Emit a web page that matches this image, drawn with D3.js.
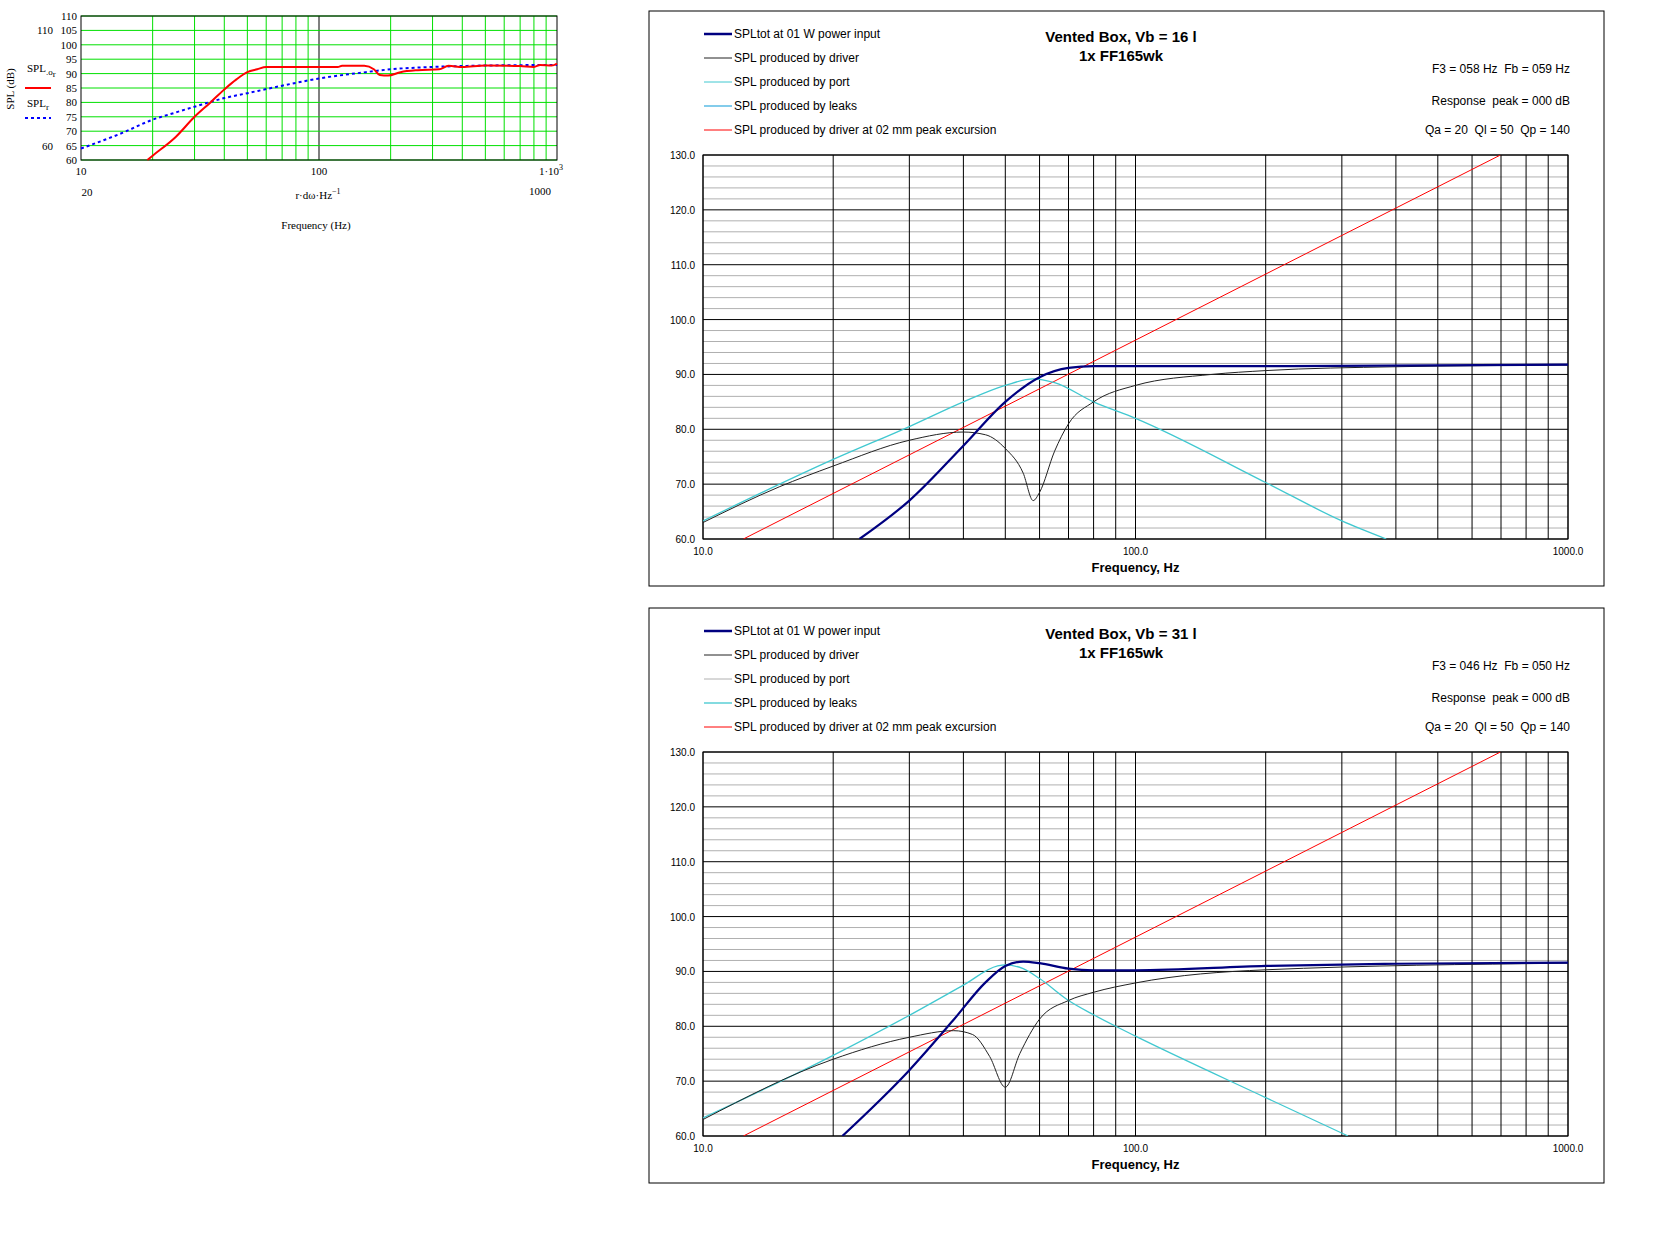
<!DOCTYPE html><html><head><meta charset="utf-8"><script src="https://d3js.org/d3.v7.min.js"></script>
<style>body{margin:0;background:#fff}svg{font-family:"Liberation Sans",Arial,sans-serif}</style></head><body>
<svg id="c" width="1674" height="1251"></svg>
<script>
// ---- small chart data ----
const smallRedF=[19,20,25,30,35,40,45,50,55,60,100,120,125,155,170,180,195,220,260,320,350,400,500,700,800,850,950,1000];
const smallRedV=[60,61.5,68,75,80,84.5,88,90.5,91.5,92.3,92.3,92.3,92.7,92.7,91.5,89.5,89.3,90.5,91.2,91.5,92.7,92.3,92.8,92.6,92.3,93,92.8,93.5];
const smallBlueF=[10,15,20,25,30,40,50,70,100,150,200,300,500,1000];
const smallBlueV=[64,69.5,74,76.5,78.5,81.5,83.2,85.8,88.3,90.3,91.5,92.3,92.8,93];
const smallYTicks=[60,65,70,75,80,85,90,95,100,105,110];
// ---- big chart 1 (Vb=16 l) ----
const c1TotF=[23,30,40,50,60,70,80,100,200,1000];
const c1TotV=[60,67,77,85,89.5,91.2,91.5,91.5,91.5,91.8];
const c1DrvF=[10,15,20,30,40,45,50,55,58,60,65,70,80,100,150,200,400,1000];
const c1DrvV=[63,69.5,73.3,78,79.5,79,76.5,72,67,68.5,76,81,85,88,90,90.7,91.4,91.7];
const c1PortF=[10,20,30,40,50,58,65,80,100,200,300,380];
const c1PortV=[63.3,74.5,80.5,85,88,89.2,88.5,85,82,70.3,63.3,60];
// ---- big chart 2 (Vb=31 l) ----
const c2TotF=[21,30,37.8,45,50,55,60,70,80,100,200,400,1000];
const c2TotV=[60,72,81,88,91,91.8,91.5,90.5,90.2,90.2,91,91.4,91.6];
const c2DrvF=[10,20,30,38,42,46,50,54,60,70,80,100,200,1000];
const c2DrvV=[63,74,78,79.2,78.5,74.5,68.9,75,81.3,84.7,86.2,87.9,90.3,91.5];
const c2PortF=[10,20,30,40,48,50,55,60,70,80,90,100,200,310];
const c2PortV=[63.3,74.7,82,87.5,91,91.2,90.5,88.7,84.7,82.1,80,78.2,67,60];
const excF=[12.4,698], excV=[60,130];
const legendLabels=["SPLtot at 01 W power input","SPL produced by driver","SPL produced by port","SPL produced by leaks","SPL produced by driver at 02 mm peak excursion"];
const bigYTicks=[60,70,80,90,100,110,120,130];
const bigXTicks=[10,100,1000];

const svg=d3.select("#c");
const zip=(f,v)=>f.map((d,i)=>[d,v[i]]);
const logMinor=[];for(let dec of[10,100])for(let k=1;k<10;k++)logMinor.push(dec*k);logMinor.push(1000);

// ---- small chart ----
(function(){
 const x=d3.scaleLog().domain([10,1000]).range([81,557]);
 const y=d3.scaleLinear().domain([60,110]).range([160,16]);
 const g=svg.append("g");
 logMinor.forEach(f=>{if(f>10&&f<1000)g.append("line").attr("x1",x(f)).attr("x2",x(f)).attr("y1",16).attr("y2",160).attr("stroke",f===100?"#000":"#00e000").attr("stroke-width",1);});
 smallYTicks.forEach(t=>g.append("line").attr("x1",81).attr("x2",557).attr("y1",y(t)).attr("y2",y(t)).attr("stroke","#00e000"));
 g.append("rect").attr("x",81).attr("y",16).attr("width",476).attr("height",144).attr("fill","none").attr("stroke","#000");
 const ln=d3.line().x(d=>x(d[0])).y(d=>y(d[1])).curve(d3.curveMonotoneX);
 g.append("path").attr("d",ln(zip(smallBlueF,smallBlueV))).attr("fill","none").attr("stroke","#0000ff").attr("stroke-width",2).attr("stroke-dasharray","3,3");
 g.append("path").attr("d",ln(zip(smallRedF,smallRedV))).attr("fill","none").attr("stroke","#ff0000").attr("stroke-width",2);
 const ser="Liberation Serif";
 smallYTicks.forEach(t=>g.append("text").attr("x",77).attr("y",y(t)+4).attr("text-anchor","end").attr("font-family",ser).attr("font-size",11).text(t));
 g.append("text").attr("x",53).attr("y",y(105)+4).attr("text-anchor","end").attr("font-family",ser).attr("font-size",11).text("110");
 g.append("text").attr("x",53).attr("y",y(65)+4).attr("text-anchor","end").attr("font-family",ser).attr("font-size",11).text("60");
 g.append("text").attr("transform","translate(14,89) rotate(-90)").attr("text-anchor","middle").attr("font-family",ser).attr("font-size",11).text("SPL (dB)");
 g.append("text").attr("x",27).attr("y",72).attr("font-family",ser).attr("font-size",11).html('SPL<tspan font-size="9" dy="3">.o</tspan><tspan font-size="9" dy="2">r</tspan>');
 g.append("line").attr("x1",25).attr("x2",51).attr("y1",88).attr("y2",88).attr("stroke","#f00").attr("stroke-width",2);
 g.append("text").attr("x",27).attr("y",107).attr("font-family",ser).attr("font-size",11).html('SPL<tspan font-size="9" dy="3">r</tspan>');
 g.append("line").attr("x1",25).attr("x2",51).attr("y1",118).attr("y2",118).attr("stroke","#00f").attr("stroke-width",2).attr("stroke-dasharray","3,3");
 [[10,"10"],[100,"100"]].forEach(([v,t])=>g.append("text").attr("x",x(v)).attr("y",175).attr("text-anchor","middle").attr("font-family",ser).attr("font-size",11).text(t));
 g.append("text").attr("x",x(1000)-6).attr("y",175).attr("text-anchor","middle").attr("font-family",ser).attr("font-size",11).html('1·10<tspan font-size="8" dy="-5">3</tspan>');
 g.append("text").attr("x",87).attr("y",196).attr("text-anchor","middle").attr("font-family",ser).attr("font-size",11).text("20");
 g.append("text").attr("x",540).attr("y",195).attr("text-anchor","middle").attr("font-family",ser).attr("font-size",11).text("1000");
 g.append("text").attr("x",318).attr("y",199).attr("text-anchor","middle").attr("font-family",ser).attr("font-size",11).html('r·dω·Hz<tspan font-size="8" dy="-5">−1</tspan>');
 g.append("text").attr("x",316).attr("y",229).attr("text-anchor","middle").attr("font-family",ser).attr("font-size",11).text("Frequency (Hz)");
})();

// ---- big charts ----
function bigChart(top,vb,f3,fb,tot,drv,port,portCol,leakCol){
 const bx=649,bw=955,bh=575;
 const L=703,R=1568,T=top+144,B=top+528;
 const g=svg.append("g");
 g.append("rect").attr("x",bx).attr("y",top).attr("width",bw).attr("height",bh).attr("fill","#fff").attr("stroke","#000");
 const x=d3.scaleLog().domain([10,1000]).range([L,R]);
 const y=d3.scaleLinear().domain([60,130]).range([B,T]);
 for(let v=60;v<=130;v+=2){if(v%10)g.append("line").attr("x1",L).attr("x2",R).attr("y1",y(v)).attr("y2",y(v)).attr("stroke","#b0b0b0");}
 logMinor.forEach(f=>g.append("line").attr("x1",x(f)).attr("x2",x(f)).attr("y1",T).attr("y2",B).attr("stroke","#000").attr("stroke-width",1));
 bigYTicks.forEach(v=>g.append("line").attr("x1",L).attr("x2",R).attr("y1",y(v)).attr("y2",y(v)).attr("stroke","#000"));
 g.append("rect").attr("x",L).attr("y",T).attr("width",R-L).attr("height",B-T).attr("fill","none").attr("stroke","#000");
 bigYTicks.forEach(v=>g.append("text").attr("x",L-8).attr("y",y(v)+4).attr("text-anchor","end").attr("font-size",10).text(v.toFixed(1)));
 bigXTicks.forEach(v=>g.append("text").attr("x",x(v)).attr("y",B+16).attr("text-anchor","middle").attr("font-size",10).text(v.toFixed(1)));
 g.append("text").attr("x",(L+R)/2).attr("y",B+33).attr("text-anchor","middle").attr("font-size",13).attr("font-weight","bold").text("Frequency, Hz");
 const ln=d3.line().x(d=>x(d[0])).y(d=>y(d[1])).curve(d3.curveMonotoneX);
 g.append("defs").append("clipPath").attr("id","cp"+top).append("rect").attr("x",L).attr("y",T).attr("width",R-L).attr("height",B-T);
 const pg=g.append("g").attr("clip-path",`url(#cp${top})`);
 pg.append("path").attr("d",ln(zip(excF,excV))).attr("fill","none").attr("stroke","#ff0000").attr("stroke-width",1);
 pg.append("path").attr("d",ln(port)).attr("fill","none").attr("stroke","#40c8d0").attr("stroke-width",1.3);
 pg.append("path").attr("d",ln(drv)).attr("fill","none").attr("stroke","#222").attr("stroke-width",1);
 pg.append("path").attr("d",ln(tot)).attr("fill","none").attr("stroke","#000080").attr("stroke-width",2.2);
 const cols=["#000080","#222",portCol,leakCol,"#ff0000"],wid=[2.5,1,1,1.3,1];
 const ly=[34,58,82,106,130];
 legendLabels.forEach((t,i)=>{g.append("line").attr("x1",704).attr("x2",732).attr("y1",top+ly[i]-11).attr("y2",top+ly[i]-11).attr("stroke",cols[i]).attr("stroke-width",wid[i]);
  g.append("text").attr("x",734).attr("y",top+ly[i]-7).attr("font-size",12).text(t);});
 g.append("text").attr("x",1121).attr("y",top+31).attr("text-anchor","middle").attr("font-size",15).attr("font-weight","bold").text(`Vented Box, Vb = ${vb} l`);
 g.append("text").attr("x",1121).attr("y",top+50).attr("text-anchor","middle").attr("font-size",15).attr("font-weight","bold").text("1x FF165wk");
 g.append("text").attr("x",1570).attr("y",top+62).attr("text-anchor","end").attr("font-size",12).attr("xml:space","preserve").text(`F3 = ${f3} Hz  Fb = ${fb} Hz`);
 g.append("text").attr("x",1570).attr("y",top+94).attr("text-anchor","end").attr("font-size",12).attr("xml:space","preserve").text("Response  peak = 000 dB");
 g.append("text").attr("x",1570).attr("y",top+123).attr("text-anchor","end").attr("font-size",12).attr("xml:space","preserve").text("Qa = 20  Ql = 50  Qp = 140");
}
bigChart(11,16,"058","059",zip(c1TotF,c1TotV),zip(c1DrvF,c1DrvV),zip(c1PortF,c1PortV),"#40c8d0","#40b0e0");
bigChart(608,31,"046","050",zip(c2TotF,c2TotV),zip(c2DrvF,c2DrvV),zip(c2PortF,c2PortV),"#b0b0b0","#40c8d0");
</script></body></html>
